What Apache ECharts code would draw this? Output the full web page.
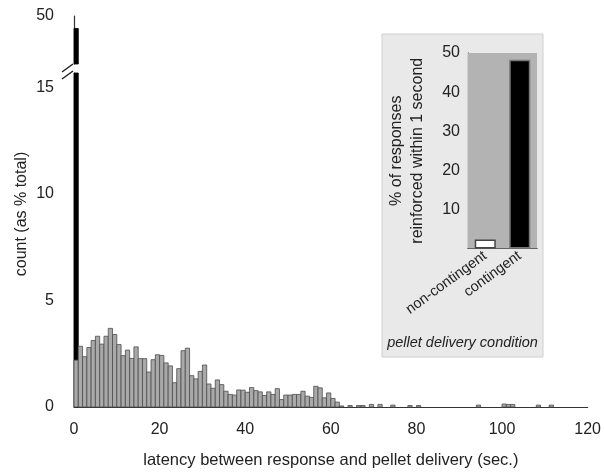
<!DOCTYPE html>
<html>
<head>
<meta charset="utf-8">
<script src="https://cdn.jsdelivr.net/npm/echarts@6/dist/echarts.min.js"></script>
<style>
  html, body { margin: 0; background: #fff; }
  #chart { width: 604px; height: 474px; }
</style>
</head>
<body>
<div id="chart"></div>
<script>
// % of responses per 1-second latency bin (grey bars), bins 0..62
const histCounts = [
  2.2, 2.85, 2.36, 2.79, 3.12, 3.32, 2.95, 3.32, 3.69, 3.4,
  2.93, 2.41, 2.67, 2.28, 2.82, 2.27, 2.27, 1.64, 2.22, 2.45,
  2.42, 2.07, 1.93, 1.14, 1.8, 2.64, 2.76, 1.47, 1.32, 1.67,
  1.97, 1.08, 0.88, 1.27, 1.05, 0.74, 0.59, 0.56, 0.8, 0.79,
  0.69, 0.91, 0.77, 0.71, 0.54, 0.71, 0.59, 0.86, 0.35, 0.56,
  0.56, 0.59, 0.59, 0.74, 0.51, 0.45, 0.97, 0.9, 0.43, 0.66,
  0.4, 0.23, 0.05
];
// sparse tail of the distribution
const tailBins   = [64, 66, 67, 69, 71, 74, 78, 80, 94, 100, 101, 102, 108, 111];
const tailCounts = [0.07, 0.07, 0.07, 0.12, 0.12, 0.09, 0.07, 0.07, 0.09, 0.14, 0.12, 0.12, 0.09, 0.09];
// first-second bin (black bar)
const firstSecondPct = 48.7;

// inset
const conditions = ['non-contingent', 'contingent'];
const reinforcedWithin1s = [2.3, 48.3];

const font = 'Liberation Sans, Arial, sans-serif';
const ink = '#222';

const greyBins = histCounts.map((v, i) => [i, i + 1, v])
  .concat(tailBins.map((b, k) => [b, b + 1, tailCounts[k]]));
const blackBins = [[0, 1, firstSecondPct]];

function binRenderer(fill, stroke) {
  return function (params, api) {
    const cs = params.coordSys;
    const p0 = api.coord([api.value(0), 0]);
    const p1 = api.coord([api.value(1), api.value(2)]);
    const bottom = Math.min(p0[1], cs.y + cs.height);
    const top = Math.max(p1[1], cs.y);
    if (bottom <= top) return;
    return {
      type: 'rect',
      shape: { x: p0[0], y: top, width: p1[0] - p0[0], height: bottom - top },
      style: { fill: fill, stroke: stroke, lineWidth: 0.8 }
    };
  };
}

const axisLine = { show: true, lineStyle: { color: '#333', width: 1.2 } };

const chart = echarts.init(document.getElementById('chart'));
chart.setOption({
  animation: false,
  textStyle: { fontFamily: font },
  grid: [
    { left: 74, right: 12, top: 73, bottom: 63 },
    { left: 74, right: 12, top: 16, height: 48 },
    { left: 468, top: 53, width: 69, height: 195.5, show: true, backgroundColor: '#b3b3b3', borderWidth: 0, z: 3 }
  ],
  xAxis: [
    {
      gridIndex: 0, type: 'value', min: 0, max: 120, interval: 20,
      axisLine: axisLine, axisTick: { show: false }, splitLine: { show: false },
      axisLabel: { color: ink, fontSize: 16, margin: 15 },
      name: 'latency between response and pellet delivery (sec.)',
      nameLocation: 'middle', nameGap: 45,
      nameTextStyle: { color: ink, fontSize: 16.5 }
    },
    { gridIndex: 1, type: 'value', min: 0, max: 120, show: false },
    {
      gridIndex: 2, type: 'category', data: conditions,
      axisLine: { show: true, lineStyle: { color: '#111', width: 1.2 } },
      axisTick: { show: false },
      axisLabel: { color: ink, fontSize: 14.5, rotate: 36, margin: 6, interval: 0 }
    }
  ],
  yAxis: [
    {
      gridIndex: 0, type: 'value', min: 0, max: 15.67, interval: 5, offset: 6,
      axisLine: axisLine, axisTick: { show: false }, splitLine: { show: false },
      axisLabel: { color: ink, fontSize: 16, margin: 14, formatter: v => (v % 5 === 0 ? String(v) : '') }
    },
    {
      gridIndex: 1, type: 'value', min: 45, max: 50, interval: 5, offset: 6,
      axisLine: axisLine, axisTick: { show: false }, splitLine: { show: false },
      axisLabel: { color: ink, fontSize: 16, margin: 14, formatter: v => (v === 50 ? '50' : '') }
    },
    {
      gridIndex: 2, type: 'value', min: 0, max: 50, interval: 10,
      axisLine: { show: true, lineStyle: { color: '#111', width: 1.2 } },
      axisTick: { show: false }, splitLine: { show: false },
      axisLabel: { color: ink, fontSize: 16, margin: 8, formatter: v => (v === 0 ? '' : String(v)) },
      name: '% of responses\nreinforced within 1 second',
      nameLocation: 'middle', nameGap: 40,
      nameTextStyle: { color: ink, fontSize: 16, lineHeight: 21 }
    }
  ],
  series: [
    {
      type: 'custom', xAxisIndex: 0, yAxisIndex: 0, z: 2,
      renderItem: binRenderer('#000', '#000'), data: blackBins
    },
    {
      type: 'custom', xAxisIndex: 0, yAxisIndex: 0, z: 3,
      renderItem: binRenderer('#a9a9a9', '#4d4d4d'), data: greyBins
    },
    {
      type: 'custom', xAxisIndex: 1, yAxisIndex: 1, z: 2,
      renderItem: binRenderer('#000', '#000'), data: blackBins
    },
    {
      type: 'bar', xAxisIndex: 2, yAxisIndex: 2, z: 4, barWidth: '61%',
      data: reinforcedWithin1s.map((v, i) => ({
        value: v,
        itemStyle: i === 0
          ? { color: '#fff', borderColor: '#444', borderWidth: 1.5 }
          : { color: '#000', borderColor: '#777', borderWidth: 1.5 }
      }))
    }
  ],
  graphic: [
    {
      type: 'rect', z: -1,
      shape: { x: 382, y: 34, width: 161, height: 323 },
      style: { fill: '#e9e9e9', stroke: '#cfcfcf', lineWidth: 1 }
    },
    {
      type: 'text', x: 462.5, y: 343, z: 5,
      style: { text: 'pellet delivery condition', fill: ink, font: 'italic 14.5px ' + font, align: 'center', verticalAlign: 'middle' }
    },
    {
      type: 'text', x: 22, y: 214, rotation: Math.PI / 2,
      style: { text: 'count (as % total)', fill: ink, font: '16px ' + font, align: 'center', verticalAlign: 'middle' }
    },
    {
      type: 'line', shape: { x1: 62, y1: 72, x2: 73, y2: 64 },
      style: { stroke: '#222', lineWidth: 1.4 }
    },
    {
      type: 'line', shape: { x1: 62, y1: 79, x2: 73, y2: 71 },
      style: { stroke: '#222', lineWidth: 1.4 }
    }
  ]
});
</script>
</body>
</html>
